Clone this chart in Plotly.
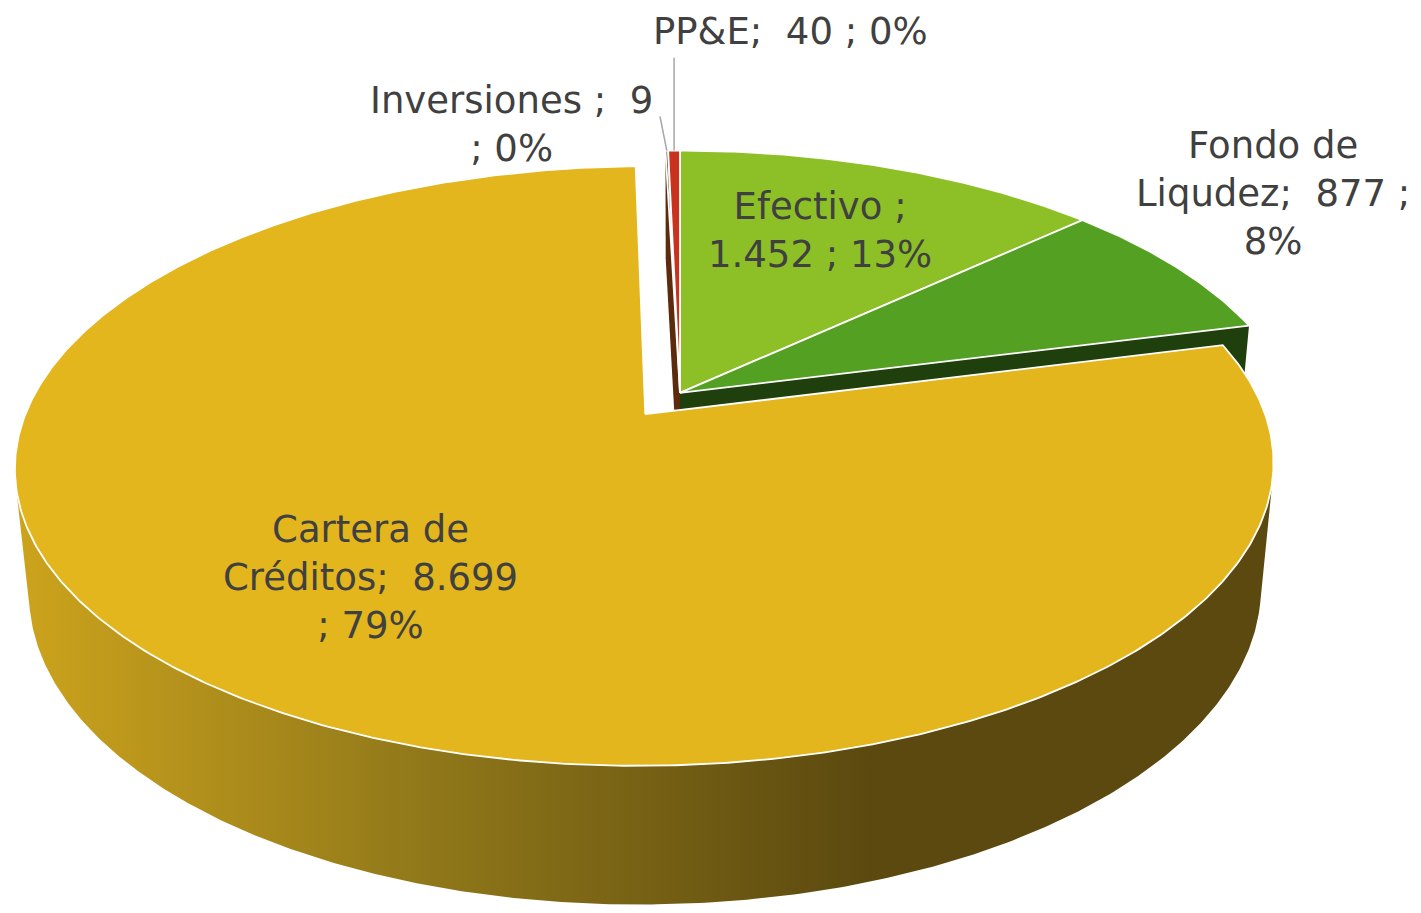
import numpy as np
import plotly.graph_objects as go

# ---------------- data ----------------
categories = ["Efectivo", "Fondo de Liquidez", "Cartera de Créditos", "Inversiones", "PP&E"]
values = [1452, 877, 8699, 9, 40]
label_texts = [
    "Efectivo ;<br>1.452 ; 13%",
    "Fondo de<br>Liqudez;\u00a0 877 ;<br>8%",
    "Cartera de<br>Créditos;\u00a0 8.699<br>; 79%",
    "Inversiones ;\u00a0 9<br>; 0%",
    "PP&amp;E;\u00a0 40 ; 0%",
]
pulled = [False, False, True, False, False]

# ---------------- styles ----------------
top_colors = ["#8DBF26", "#54A022", "#E2B61C", "#6B3312", "#C9321E"]
wall_colors = ["#4F6E14", "#1F400C", "#8F771A", "#5C2A0C", "#7A1A10"]
label_pos = [(820, 232), (1273, 195), (370, 581), (511, 125), (790, 32)]
leader_end = {3: (660, 117), 4: (None, 58)}

# projection parameters (reference pixel space)
CX, CY = 680.0, 395.0
F = 612.0
SINP = 0.466
COSP = np.sqrt(1 - SINP ** 2)
DIST = 5.19
H = 0.23
PULL = 0.093


def proj(X, Y, Z):
    X = np.asarray(X, float); Y = np.asarray(Y, float); Z = np.asarray(Z, float)
    d = Y * SINP + Z * COSP
    s = DIST / (DIST - d)
    return CX + F * X * s, CY + F * (Z * SINP - Y * COSP) * s


total = float(sum(values))
cum = np.concatenate([[0.0], np.cumsum(values) / total])
TH1 = 2 * np.pi * cum[:-1]
TH2 = 2 * np.pi * cum[1:]
n = len(values)

offs = []
for i in range(n):
    if pulled[i]:
        m = 0.5 * (TH1[i] + TH2[i])
        offs.append((PULL * np.sin(m), -PULL * np.cos(m)))
    else:
        offs.append((0.0, 0.0))

fig = go.Figure()


def poly(xs, ys, color=None, line_color="white", line_width=0.0, gradient=None):
    xs = list(xs) + [xs[0]]
    ys = list(ys) + [ys[0]]
    kw = dict(x=xs, y=ys, mode="lines", fill="toself", hoverinfo="skip",
              showlegend=False,
              line=dict(color=line_color if line_width > 0 else "rgba(0,0,0,0)",
                        width=line_width))
    if gradient is not None:
        kw["fillgradient"] = gradient
    else:
        kw["fillcolor"] = color
    fig.add_trace(go.Scatter(**kw))


CAMZ = DIST * COSP

# ---- radial walls (only where a gap exposes them) ----
for i in range(n):
    ox, oz = offs[i]
    prev_i = (i - 1) % n
    next_i = (i + 1) % n
    for side, th, neigh in (("start", TH1[i], prev_i), ("end", TH2[i], next_i)):
        if not (pulled[i] or pulled[neigh]):
            continue
        if side == "start":
            dot = np.cos(th) * ox - np.sin(th) * (CAMZ - oz)
        else:
            dot = -np.cos(th) * ox + np.sin(th) * (CAMZ - oz)
        if dot <= 0:
            continue
        Xr, Zr = ox + np.sin(th), oz - np.cos(th)
        xs, ys = proj([ox, Xr, Xr, ox], [0, 0, -H, -H], [oz, Zr, Zr, oz])
        poly(xs, ys, color=wall_colors[i])

# ---- outer walls (visible front part) ----
for i in range(n):
    ox, oz = offs[i]
    th = np.linspace(TH1[i], TH2[i], 600)
    vis = (-1 - ox * np.sin(th) + oz * np.cos(th) - CAMZ * np.cos(th)) > 0
    if vis.sum() < 2:
        continue
    tv = th[vis]
    X = ox + np.sin(tv); Z = oz - np.cos(tv)
    xt, yt = proj(X, np.zeros_like(X), Z)
    xb, yb = proj(X, -H * np.ones_like(X), Z)
    xs = np.concatenate([xt, xb[::-1]])
    ys = np.concatenate([yt, yb[::-1]])
    if pulled[i]:
        grad = dict(type="horizontal",
                    colorscale=[[0, "#CCA31C"], [0.45, "#937A1A"], [1, "#5B490F"]],
                    start=20, stop=870)
        poly(xs, ys, gradient=grad)
    else:
        poly(xs, ys, color=wall_colors[i])

# ---- top faces ----
for i in range(n):
    ox, oz = offs[i]
    npts = max(3, int((TH2[i] - TH1[i]) / (2 * np.pi) * 720) + 2)
    th = np.linspace(TH1[i], TH2[i], npts)
    X = np.concatenate([[ox], ox + np.sin(th)])
    Z = np.concatenate([[oz], oz - np.cos(th)])
    xs, ys = proj(X, np.zeros_like(X), Z)
    poly(xs, ys, color=top_colors[i], line_color="white", line_width=1.8)

# ---- leader lines ----
for i, (ex, ey) in leader_end.items():
    ox, oz = offs[i]
    m = 0.5 * (TH1[i] + TH2[i])
    rx, ry = proj(ox + np.sin(m), 0.0, oz - np.cos(m))
    rx, ry = float(rx), float(ry)
    x2 = rx if ex is None else ex
    fig.add_trace(go.Scatter(x=[rx, x2], y=[ry, ey], mode="lines",
                             line=dict(color="#A6A6A6", width=1.5),
                             hoverinfo="skip", showlegend=False))

# ---- labels ----
for i in range(n):
    lx, ly = label_pos[i]
    fig.add_annotation(x=lx, y=ly, xref="x", yref="y", text=label_texts[i],
                       showarrow=False, align="center",
                       font=dict(family="DejaVu Sans", size=37, color="#404040"))

fig.update_layout(
    width=1405, height=897,
    margin=dict(l=0, r=0, t=0, b=0),
    paper_bgcolor="white", plot_bgcolor="white",
    xaxis=dict(range=[8, 1413], visible=False, fixedrange=True),
    yaxis=dict(range=[910, 8], visible=False, fixedrange=True),
    showlegend=False,
)

fig.write_html("out.html")
